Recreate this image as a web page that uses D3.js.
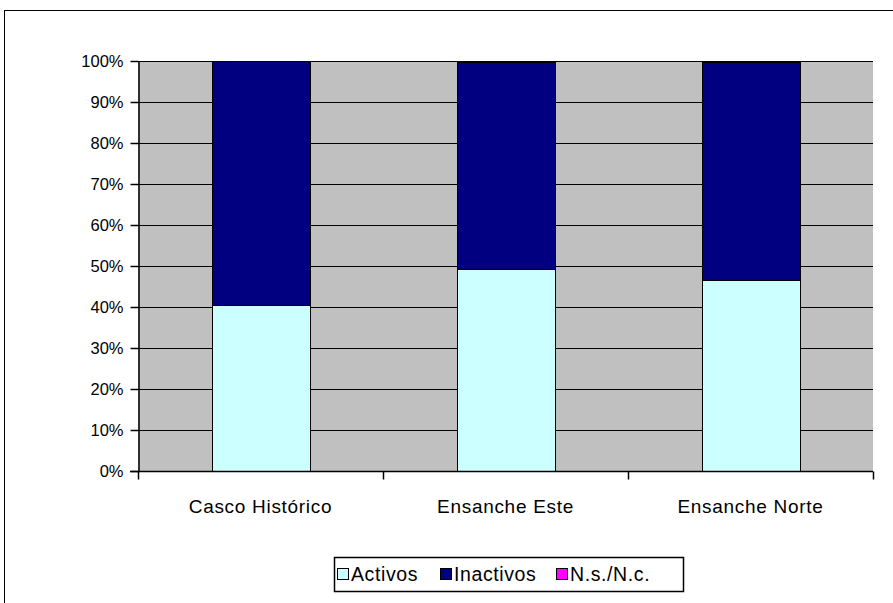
<!DOCTYPE html>
<html>
<head>
<meta charset="utf-8">
<script src="https://cdn.jsdelivr.net/npm/d3@7"></script>
<style>
  body { margin: 0; background: #fff; }
  svg { display: block; font-family: 'Liberation Sans', Arial, sans-serif; }
</style>
</head>
<body>
<svg id="chart"></svg>
<script>
const width = 893
const height = 603

// data (percent)
const categories = ['Casco Histórico', 'Ensanche Este', 'Ensanche Norte']
const seriesNames = ['Activos', 'Inactivos', 'N.s./N.c.']
const activos = [40.6, 49.2, 46.7]
const inactivos = [59.4, 50.5, 53.0]
const nsnc = [0.0, 0.3, 0.3]
const seriesColors = ['#CCFFFF', '#000080', '#FF00FF']
const yTicks = [0, 10, 20, 30, 40, 50, 60, 70, 80, 90, 100]

const svg = d3.select('#chart').attr('width', width).attr('height', height)

// outer chart frame (runs off right/bottom edge)
svg
  .append('rect')
  .attr('x', 4.5)
  .attr('y', 10.5)
  .attr('width', 900)
  .attr('height', 600)
  .attr('fill', 'white')
  .attr('stroke', '#000')
  .attr('stroke-width', 1)

const margin = { left: 138, top: 61, right: 873, bottom: 471 }

const x = d3
  .scaleBand()
  .domain(categories)
  .range([margin.left, margin.right])
  .paddingInner(0.6)
  .paddingOuter(0.3)

const band = d3.scaleBand().domain(categories).range([margin.left, margin.right])

const y = d3.scaleLinear().domain([0, 100]).range([margin.bottom, margin.top])

// plot background
svg
  .append('rect')
  .attr('x', margin.left)
  .attr('y', margin.top)
  .attr('width', margin.right - margin.left)
  .attr('height', margin.bottom - margin.top)
  .attr('fill', '#C0C0C0')

// gridlines
svg
  .append('g')
  .selectAll('line')
  .data(yTicks.filter((d) => d > 0))
  .join('line')
  .attr('x1', margin.left)
  .attr('x2', margin.right)
  .attr('y1', (d) => Math.round(y(d)) + 0.5)
  .attr('y2', (d) => Math.round(y(d)) + 0.5)
  .attr('stroke', '#000')
  .attr('stroke-width', 1)

// stacked bars
const rows = categories.map((c, i) => ({
  cat: c,
  'Activos': activos[i],
  'Inactivos': inactivos[i],
  'N.s./N.c.': nsnc[i],
}))
const stacked = d3.stack().keys(seriesNames)(rows)

svg
  .append('g')
  .selectAll('g')
  .data(stacked)
  .join('g')
  .attr('fill', (d, i) => seriesColors[i])
  .selectAll('rect')
  .data((d) => d)
  .join('rect')
  .attr('x', (d) => Math.round(x(d.data.cat)) + 0.5)
  .attr('width', Math.round(x.bandwidth()))
  .attr('y', (d) => Math.round(y(d[1])) + 0.5)
  .attr('height', (d) => Math.max(0, Math.round(y(d[0])) - Math.round(y(d[1]))))
  .attr('stroke', '#000')
  .attr('stroke-width', 1)

// y axis
const yAxis = svg
  .append('g')
  .attr('transform', `translate(${margin.left + 0.5},0)`)
  .call(
    d3
      .axisLeft(y)
      .tickValues(yTicks)
      .tickFormat((d) => d + '%')
      .tickSize(8)
      .tickSizeOuter(0)
  )
yAxis.select('.domain').attr('stroke', '#000').attr('stroke-width', 1.5)
yAxis.selectAll('.tick line').attr('stroke', '#000').attr('stroke-width', 1.5)
yAxis
  .selectAll('.tick text')
  .attr('x', -15)
  .attr('font-size', 16.5)
  .attr('fill', '#000')
  .attr('font-family', "'Liberation Sans', Arial, sans-serif")

// x axis
const xAxis = svg
  .append('g')
  .attr('transform', `translate(0,${margin.bottom + 0.5})`)
xAxis
  .append('line')
  .attr('x1', margin.left - 8)
  .attr('x2', margin.right)
  .attr('stroke', '#000')
  .attr('stroke-width', 1.5)
xAxis
  .selectAll('line.tk')
  .data(categories)
  .join('line')
  .attr('class', 'tk')
  .attr('x1', (d) => band(d) + band.bandwidth() + 0.5)
  .attr('x2', (d) => band(d) + band.bandwidth() + 0.5)
  .attr('y1', 0)
  .attr('y2', 8)
  .attr('stroke', '#000')
  .attr('stroke-width', 1.5)
xAxis
  .append('line')
  .attr('x1', margin.left + 0.5)
  .attr('x2', margin.left + 0.5)
  .attr('y1', 0)
  .attr('y2', 8)
  .attr('stroke', '#000')
  .attr('stroke-width', 1.5)
xAxis
  .selectAll('text')
  .data(categories)
  .join('text')
  .attr('x', (d) => band(d) + band.bandwidth() / 2)
  .attr('y', 41)
  .attr('text-anchor', 'middle')
  .attr('font-size', 19)
  .attr('letter-spacing', 0.7)
  .text((d) => d)

// legend
const legend = svg.append('g')
legend
  .append('rect')
  .attr('x', 334.5)
  .attr('y', 557.5)
  .attr('width', 349)
  .attr('height', 34)
  .attr('fill', 'white')
  .attr('stroke', '#000')
  .attr('stroke-width', 1.5)

const legendX = [337, 440, 556]
const items = legend
  .selectAll('g')
  .data(seriesNames)
  .join('g')
  .attr('transform', (d, i) => `translate(${legendX[i]},0)`)
items
  .append('rect')
  .attr('x', 0.5)
  .attr('y', 568.5)
  .attr('width', 11)
  .attr('height', 11)
  .attr('fill', (d, i) => seriesColors[i])
  .attr('stroke', '#000')
  .attr('stroke-width', 1)
items
  .append('text')
  .attr('x', 14)
  .attr('y', 581)
  .attr('font-size', 19.5)
  .attr('letter-spacing', 0.6)
  .text((d) => d)
</script>
</body>
</html>
